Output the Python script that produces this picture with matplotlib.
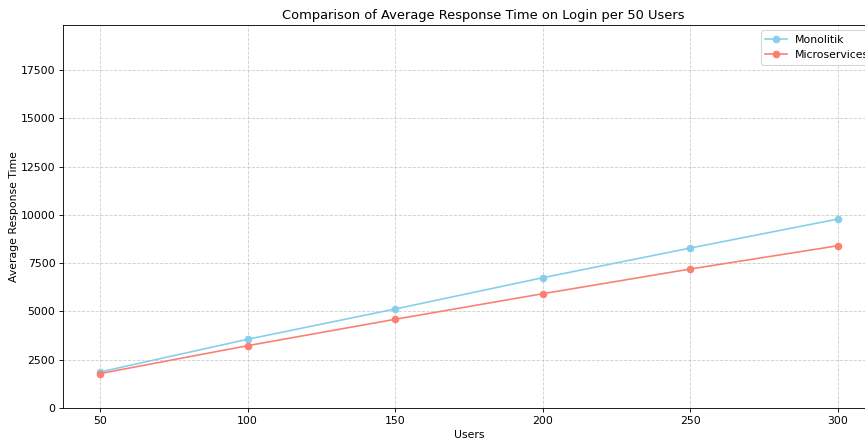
import matplotlib
matplotlib.use("Agg")
import matplotlib.pyplot as plt

users = [50, 100, 150, 200, 250, 300]
monolitik = [1864, 3557, 5126, 6746, 8284, 9786]
microservices = [1780, 3226, 4593, 5918, 7197, 8403]

# drawn at a low dpi so text and lines come out at the reference's reduced scale
DPI = 78
fig = plt.figure(figsize=(865 / DPI, 441 / DPI), dpi=DPI)
ax = fig.add_axes([63 / 865, 1 - 408 / 441, (875 - 63) / 865, (408 - 25) / 441])
ax.plot(users, monolitik, marker="o", color="skyblue", label="Monolitik")
ax.plot(users, microservices, marker="o", color="salmon", label="Microservices")
ax.set_ylim(0, 19830)
ax.set_xticks(users)
ax.set_title("Comparison of Average Response Time on Login per 50 Users", x=0.518)
ax.set_xlabel("Users")
ax.set_ylabel("Average Response Time", labelpad=1)
ax.grid(True, linestyle="--", alpha=0.6)
ax.legend(loc="upper right", bbox_to_anchor=(1.005, 1.0))
fig.savefig("out.png", dpi=DPI)
